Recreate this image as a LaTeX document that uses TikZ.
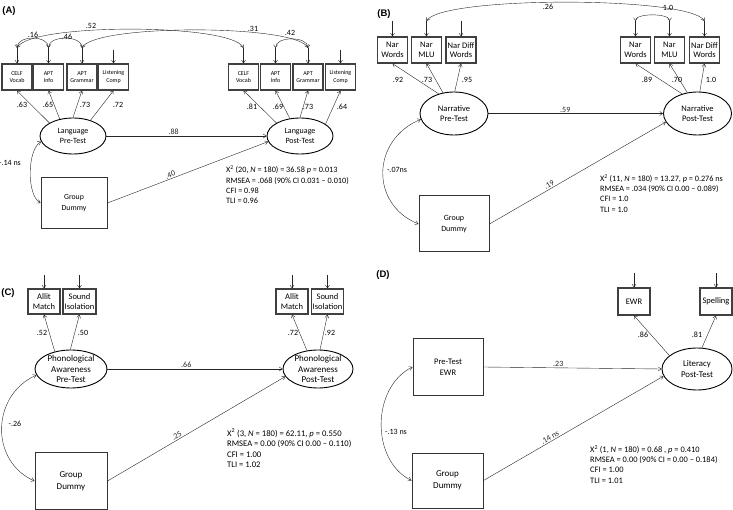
\documentclass[tikz,border=0pt]{standalone}
\usepackage{fontspec}
\setmainfont{Carlito}
\newfontfamily\panelfont{Liberation Sans}
\usetikzlibrary{arrows.meta,shapes.geometric}

\tikzset{
  obs/.style={draw=black!75, line width=1.2pt, rectangle, minimum width=30pt, minimum height=26pt, inner sep=0pt, align=center, font=\fontsize{8.5}{9.5}\selectfont},
  boxa/.style={font=\fontsize{6}{7.5}\selectfont},
  gd/.style={draw=black!80, line width=1pt, rectangle, inner sep=0pt, align=center, font=\fontsize{8.5}{11}\selectfont},
  lat/.style={draw, line width=0.9pt, ellipse, inner sep=-2pt, align=center, font=\fontsize{8.5}{10}\selectfont},
  arr/.style={-{Straight Barb[length=3pt,width=4pt]}, line width=0.4pt, black!85},
  dbl/.style={{Straight Barb[length=3pt,width=4pt]}-{Straight Barb[length=3pt,width=4pt]}, line width=0.4pt, black!85},
  lbl/.style={font=\fontsize{8}{9}\selectfont, inner sep=1pt},
  fitstat/.style={anchor=west, align=left, inner sep=0pt, font=\fontsize{8.2}{10.3}\selectfont},
  panel/.style={font=\panelfont\bfseries\fontsize{9.5}{11}\selectfont}
}

\begin{document}
\begin{tikzpicture}[x=1pt,y=-1pt]
\useasboundingbox (0,0) rectangle (733,510);

% (A) language
\node (pa) at (9,11) [panel] {(A)};
\node (cva) at (17,77) [obs,boxa] {CELF\\Vocab};
\node (aia) at (48.5,77) [obs,boxa] {APT\\Info};
\node (aga) at (82,77) [obs,boxa] {APT\\Grammar};
\node (lca) at (113.5,77) [obs,boxa] {Listening\\Comp};
\node (cvb) at (243.5,77) [obs,boxa] {CELF\\Vocab};
\node (aib) at (275.5,77) [obs,boxa] {APT\\Info};
\node (agb) at (308,77) [obs,boxa] {APT\\Grammar};
\node (lcb) at (340.5,77) [obs,boxa] {Listening\\Comp};
\node (lpre) at (73,136) [lat,minimum width=66pt,minimum height=36pt,font=\fontsize{8}{9.5}\selectfont] {Language\\Pre-Test};
\node (lpost) at (300,136) [lat,minimum width=66pt,minimum height=36pt,font=\fontsize{8}{9.5}\selectfont] {Language\\Post-Test};
\node (gda) at (74,203) [gd,minimum width=66pt,minimum height=51pt,font=\fontsize{7.8}{10.5}\selectfont] {Group\\Dummy};

\foreach \n/\y in {cva/48,aia/48,aga/48,lca/50,cvb/48,aib/48,agb/48,lcb/50}
{
  \coordinate (e\n) at (\n.north |- 0,\y);
  \draw[arr] (e\n) -- (\n.north);
}
\draw[dbl] (ecva) .. controls +(0,-13) and +(0,-13) .. (eaia);
\draw[dbl] (eaia) .. controls +(0,-13) and +(0,-13) .. (eaga);
\draw[dbl] (ecva) .. controls +(12,-25) and +(-12,-25) .. (ecvb);
\draw[dbl] (eaga) .. controls +(12,-24) and +(-12,-24) .. (eagb);
\draw[dbl] (eaib) .. controls +(0,-12) and +(0,-12) .. (eagb);
\node (r16) at (33,35) [lbl] {.16};
\node (r46) at (67,37) [lbl] {.46};
\node (r52) at (91,26) [lbl] {.52};
\node (r31) at (253,29) [lbl] {.31};
\node (r42) at (290,33) [lbl] {.42};

\draw[arr] (lpre.151) -- (cva.south);
\draw[arr] (lpre.128) -- (aia.south);
\draw[arr] (lpre.90) -- (aga.south);
\draw[arr] (lpre.42) -- (lca.south);
\draw[arr] (lpost.151) -- (cvb.south);
\draw[arr] (lpost.120) -- (aib.south);
\draw[arr] (lpost.90) -- (agb.south);
\draw[arr] (lpost.25) -- (lcb.south);
\node (l63) at (22,105) [lbl] {.63};
\node (l65) at (48,105) [lbl] {.65};
\node (l73a) at (85,105) [lbl] {.73};
\node (l72) at (118,105) [lbl] {.72};
\node (l81) at (252,107) [lbl] {.81};
\node (l69) at (278,107) [lbl] {.69};
\node (l73b) at (308,107) [lbl] {.73};
\node (l64) at (342,107) [lbl] {.64};

\draw[arr] (lpre.east) -- (lpost.west) node[lbl,pos=0.42,above] (p88) {.88};
\draw[arr] (gda.east) -- (lpost.190) node[lbl,pos=0.4,sloped,above] (p40) {.40};
\draw[dbl] (lpre.190) .. controls +(-14,8) and +(-14,-8) .. (gda.west);
\node (c14) at (10,163) [lbl] {-.14 ns};
\node (fita) at (226,185) [fitstat] {X\textsuperscript{2} (20, \textit{N} = 180) = 36.58 \textit{p} = 0.013\\RMSEA = .068 (90\% CI 0.031 -- 0.010)\\CFI = 0.98\\TLI = 0.96};

% (B) narrative
\node (pb) at (384,14) [panel] {(B)};
\node (nwa) at (392.5,50) [obs] {Nar\\Words};
\node (nma) at (426.5,50) [obs] {Nar\\MLU};
\node (nda) at (461,50) [obs] {Nar Diff\\Words};
\node (nwb) at (635.5,50) [obs] {Nar\\Words};
\node (nmb) at (669.5,50) [obs] {Nar\\MLU};
\node (ndb) at (704.5,50) [obs] {Nar Diff\\Words};
\node (npre) at (454,113.5) [lat,minimum width=68pt,minimum height=43pt] {Narrative\\Pre-Test};
\node (npost) at (697.5,113.5) [lat,minimum width=68pt,minimum height=43pt] {Narrative\\Post-Test};
\node (gdb) at (454,224) [gd,minimum width=70pt,minimum height=56pt,font=\fontsize{8}{11}\selectfont] {Group\\Dummy};

\foreach \n in {nwa,nma,nda,nwb,nmb,ndb}
{
  \coordinate (e\n) at (\n.north |- 0,21);
  \draw[arr] (e\n) -- (\n.north);
}
\draw[dbl] (enma) .. controls +(15,-25) and +(-15,-25) .. (endb);
\draw[dbl] (enwb) .. controls +(0,-8) and +(0,-8) .. (enmb);
\node (r26) at (548,7) [lbl] {.26};
\node (r10) at (668,8) [lbl] {1.0};

\draw[arr] (npre.128) -- (nwa.south);
\draw[arr] (npre.118) -- (nma.south);
\draw[arr] (npre.88) -- (nda.south);
\draw[arr] (npost.128) -- (nwb.south);
\draw[arr] (npost.116) -- (nmb.south);
\draw[arr] (npost.84) -- (ndb.south);
\node (l92) at (398,80) [lbl] {.92};
\node (l73c) at (427,80) [lbl] {.73};
\node (l95) at (467,80) [lbl] {.95};
\node (l89) at (647,80) [lbl] {.89};
\node (l70) at (677,80) [lbl] {.70};
\node (l10) at (711,80) [lbl] {1.0};

\draw[arr] (npre.east) -- (npost.west) node[lbl,pos=0.44,above] (p59) {.59};
\draw[arr] (gdb.east) -- (npost.195) node[lbl,pos=0.35,sloped,above] (p19) {.19};
\draw[dbl] (npre.190) .. controls +(-49,20) and +(-49,-20) .. (gdb.west);
\node (c07) at (397,170) [lbl] {-.07ns};
\node (fitb) at (600,193.5) [fitstat] {X\textsuperscript{2} (11, \textit{N} = 180) = 13.27, \textit{p} = 0.276 ns\\RMSEA = .034 (90\% CI 0.00 -- 0.089)\\CFI = 1.0\\TLI = 1.0};

% (C) phonological awareness
\node (pc) at (8,293) [panel] {(C)};
\node (ama) at (44,301.5) [obs,minimum width=32pt,minimum height=25pt] {Allit\\Match};
\node (sia) at (79.5,301.5) [obs,minimum width=33pt,minimum height=25pt] {Sound\\Isolation};
\node (amb) at (292,301.5) [obs,minimum width=32pt,minimum height=25pt] {Allit\\Match};
\node (sib) at (327.5,301.5) [obs,minimum width=32pt,minimum height=25pt] {Sound\\Isolation};
\node (ppre) at (71,369) [lat,minimum width=72pt,minimum height=38pt,font=\fontsize{9}{10.5}\selectfont] {Phonological\\Awareness\\Pre-Test};
\node (ppost) at (318,369) [lat,minimum width=70pt,minimum height=38pt,font=\fontsize{9}{10.5}\selectfont] {Phonological\\Awareness\\Post-Test};
\node (gdc) at (71,481) [gd,minimum width=72pt,minimum height=57pt,font=\fontsize{9}{12}\selectfont] {Group\\Dummy};

\foreach \n in {ama,sia,amb,sib}
{
  \coordinate (e\n) at (\n.north |- 0,275);
  \draw[arr] (e\n) -- (\n.north);
}
\draw[arr] (ppre.133) -- (ama.south);
\draw[arr] (ppre.92) -- (sia.south);
\draw[arr] (ppost.121) -- (amb.south);
\draw[arr] (ppost.84) -- (sib.south);
\node (l52) at (42,333) [lbl] {.52};
\node (l50) at (83,333) [lbl] {.50};
\node (l72c) at (293,333) [lbl] {.72};
\node (l92c) at (330,333) [lbl] {.92};

\draw[arr] (ppre.east) -- (ppost.west) node[lbl,pos=0.45,above] (p66) {.66};
\draw[arr] (gdc.east) -- (ppost.193) node[lbl,pos=0.4,sloped,above] (p25) {.25};
\draw[dbl] (ppre.190) .. controls +(-45,20) and +(-45,-20) .. (gdc.west);
\node (c26) at (15,424) [lbl] {-.26};
\node (fitc) at (227,448) [fitstat,font=\fontsize{8.6}{10.5}\selectfont] {X\textsuperscript{2} (3, \textit{N} = 180) = 62.11, \textit{p} = 0.550\\RMSEA = 0.00 (90\% CI 0.00 -- 0.110)\\CFI = 1.00\\TLI = 1.02};

% (D) literacy
\node (pd) at (383,275) [panel] {(D)};
\node (ewr) at (634,301.5) [obs,minimum width=32pt,minimum height=27pt] {EWR};
\node (spl) at (716,301.5) [obs,minimum width=32pt,minimum height=27pt] {Spelling};
\node (pte) at (448,367) [gd,minimum width=70pt,minimum height=57pt] {Pre-Test\\EWR};
\node (lit) at (697,369) [lat,minimum width=70pt,minimum height=42pt,font=\fontsize{8.8}{10.5}\selectfont] {Literacy\\Post-Test};
\node (gdd) at (447.5,480.5) [gd,minimum width=71pt,minimum height=55pt,font=\fontsize{9}{12}\selectfont] {Group\\Dummy};

\foreach \n in {ewr,spl}
{
  \coordinate (e\n) at (\n.north |- 0,273);
  \draw[arr] (e\n) -- (\n.north);
}
\draw[arr] (lit.154) -- (ewr.south);
\draw[arr] (lit.77) -- (spl.south);
\node (l86) at (643,335) [lbl] {.86};
\node (l81d) at (697,335) [lbl] {.81};

\draw[arr] (pte.east) -- (lit.west) node[lbl,pos=0.42,above] (p23) {.23};
\draw[arr] (gdd.east) -- (lit.192) node[lbl,pos=0.38,sloped,above] (p14) {.14 ns};
\draw[dbl] (pte.west) .. controls +(-41,20) and +(-41,-20) .. (gdd.west);
\node (c13) at (396,432) [lbl] {-.13 ns};
\node (fitd) at (590,464.5) [fitstat,font=\fontsize{8.4}{10.3}\selectfont] {X\textsuperscript{2} (1, \textit{N} = 180) = 0.68 , \textit{p} = 0.410\\RMSEA = 0.00 (90\% CI = 0.00 -- 0.184)\\CFI = 1.00\\TLI = 1.01};
\end{tikzpicture}
\end{document}
